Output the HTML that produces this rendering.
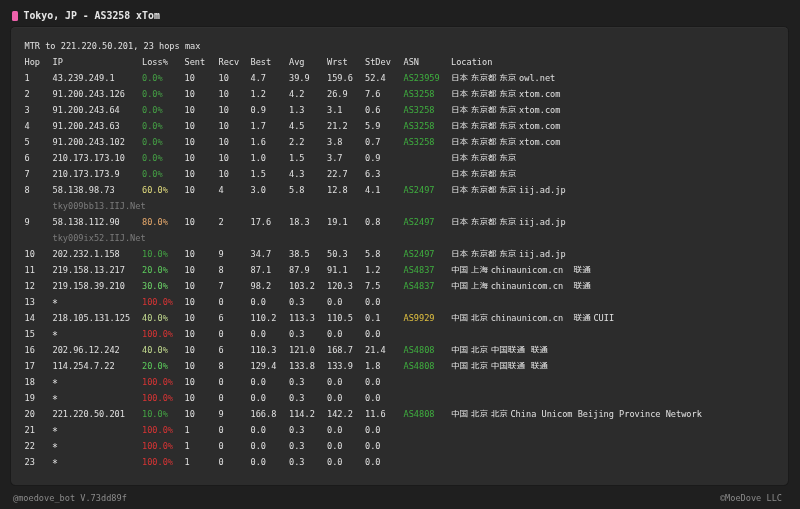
<!DOCTYPE html>
<html><head><meta charset="utf-8">
<style>
html,body{margin:0;padding:0;}
body{width:800px;height:509px;overflow:hidden;background:#1f1f1f;position:relative;
 font-family:"DejaVu Sans Mono","Noto Sans CJK SC",monospace;}
.title{position:absolute;left:23.5px;top:7.5px;font-size:9.85px;line-height:16px;font-weight:bold;color:#e6e6e6;white-space:pre;}
.bar{position:absolute;left:12.3px;top:10.6px;width:5.4px;height:10.3px;border-radius:1.5px;background:#ee62ac;}
.panel{position:absolute;left:11px;top:27px;width:776.5px;height:457.5px;background:#2c2c2c;border-radius:4.5px;
 box-shadow:0 0 0 1px #1a1a1a, inset 0 1px 0 #313131;}
.r{position:absolute;left:0;height:16px;width:800px;font-size:8.6px;line-height:16px;color:#e0e0e0;white-space:pre;}
.r span{position:absolute;top:0;}
.r i{font-style:normal;}
.r i.gap{word-spacing:0.07px;}
.r i.gap2{word-spacing:0.42px;}
.r i.ns{word-spacing:-2.58px;}
.r b.cj{font-weight:normal;font-family:"DejaVu Sans Mono","Noto Sans CJK SC",monospace;display:inline-block;transform:translateY(-0.1px) scaleY(0.8);}
.host{color:#7c7c7c;}
.r span.star{top:1.5px;transform:translate(-0.5px,0.9px) scale(1.15);}
.r span.loc{top:0px;}
.asg{color:#3fae3f;}
.asy{color:#e0c040;}
.l0{color:#45a045;}
.l10{color:#44a544;}
.l20{color:#5ccc5c;}
.l30{color:#6cd468;}
.l40{color:#c4dc90;}
.l60{color:#e2dc7e;}
.l80{color:#e8aa6c;}
.l100{color:#d83434;}
.foot{position:absolute;top:490px;font-size:8.6px;line-height:16px;color:#8a8a8a;white-space:pre;}
</style></head><body>
<div class="bar"></div>
<div class="title">Tokyo, JP - AS3258 xTom</div>
<div class="panel"></div>
<div class="r" style="top:37.80px"><span style="left:24.5px">MTR to 221.220.50.201, 23 hops max</span></div>
<div class="r" style="top:53.80px"><span style="left:24.5px">Hop</span><span style="left:52.5px">IP</span><span style="left:142.0px">Loss%</span><span style="left:184.5px">Sent</span><span style="left:218.5px">Recv</span><span style="left:250.5px">Best</span><span style="left:289.0px">Avg</span><span style="left:327.0px">Wrst</span><span style="left:365.0px">StDev</span><span style="left:403.5px">ASN</span><span style="left:451.0px">Location</span></div>
<div class="r" style="top:69.80px"><span style="left:24.5px">1</span><span style="left:52.5px">43.239.249.1</span><span class="l0" style="left:142.0px">0.0%</span><span style="left:184.5px">10</span><span style="left:218.5px">10</span><span style="left:250.5px">4.7</span><span style="left:289.0px">39.9</span><span style="left:327.0px">159.6</span><span style="left:365.0px">52.4</span><span class="asg" style="left:403.5px">AS23959</span><span class="loc" style="left:451.0px"><b class="cj">日本</b><i class="ns"> </i><b class="cj">东京都</b><i class="ns"> </i><b class="cj">东京</b><i class="ns"> </i>owl.net</span></div>
<div class="r" style="top:85.80px"><span style="left:24.5px">2</span><span style="left:52.5px">91.200.243.126</span><span class="l0" style="left:142.0px">0.0%</span><span style="left:184.5px">10</span><span style="left:218.5px">10</span><span style="left:250.5px">1.2</span><span style="left:289.0px">4.2</span><span style="left:327.0px">26.9</span><span style="left:365.0px">7.6</span><span class="asg" style="left:403.5px">AS3258</span><span class="loc" style="left:451.0px"><b class="cj">日本</b><i class="ns"> </i><b class="cj">东京都</b><i class="ns"> </i><b class="cj">东京</b><i class="ns"> </i>xtom.com</span></div>
<div class="r" style="top:101.80px"><span style="left:24.5px">3</span><span style="left:52.5px">91.200.243.64</span><span class="l0" style="left:142.0px">0.0%</span><span style="left:184.5px">10</span><span style="left:218.5px">10</span><span style="left:250.5px">0.9</span><span style="left:289.0px">1.3</span><span style="left:327.0px">3.1</span><span style="left:365.0px">0.6</span><span class="asg" style="left:403.5px">AS3258</span><span class="loc" style="left:451.0px"><b class="cj">日本</b><i class="ns"> </i><b class="cj">东京都</b><i class="ns"> </i><b class="cj">东京</b><i class="ns"> </i>xtom.com</span></div>
<div class="r" style="top:117.80px"><span style="left:24.5px">4</span><span style="left:52.5px">91.200.243.63</span><span class="l0" style="left:142.0px">0.0%</span><span style="left:184.5px">10</span><span style="left:218.5px">10</span><span style="left:250.5px">1.7</span><span style="left:289.0px">4.5</span><span style="left:327.0px">21.2</span><span style="left:365.0px">5.9</span><span class="asg" style="left:403.5px">AS3258</span><span class="loc" style="left:451.0px"><b class="cj">日本</b><i class="ns"> </i><b class="cj">东京都</b><i class="ns"> </i><b class="cj">东京</b><i class="ns"> </i>xtom.com</span></div>
<div class="r" style="top:133.80px"><span style="left:24.5px">5</span><span style="left:52.5px">91.200.243.102</span><span class="l0" style="left:142.0px">0.0%</span><span style="left:184.5px">10</span><span style="left:218.5px">10</span><span style="left:250.5px">1.6</span><span style="left:289.0px">2.2</span><span style="left:327.0px">3.8</span><span style="left:365.0px">0.7</span><span class="asg" style="left:403.5px">AS3258</span><span class="loc" style="left:451.0px"><b class="cj">日本</b><i class="ns"> </i><b class="cj">东京都</b><i class="ns"> </i><b class="cj">东京</b><i class="ns"> </i>xtom.com</span></div>
<div class="r" style="top:149.80px"><span style="left:24.5px">6</span><span style="left:52.5px">210.173.173.10</span><span class="l0" style="left:142.0px">0.0%</span><span style="left:184.5px">10</span><span style="left:218.5px">10</span><span style="left:250.5px">1.0</span><span style="left:289.0px">1.5</span><span style="left:327.0px">3.7</span><span style="left:365.0px">0.9</span><span class="loc" style="left:451.0px"><b class="cj">日本</b><i class="ns"> </i><b class="cj">东京都</b><i class="ns"> </i><b class="cj">东京</b></span></div>
<div class="r" style="top:165.80px"><span style="left:24.5px">7</span><span style="left:52.5px">210.173.173.9</span><span class="l0" style="left:142.0px">0.0%</span><span style="left:184.5px">10</span><span style="left:218.5px">10</span><span style="left:250.5px">1.5</span><span style="left:289.0px">4.3</span><span style="left:327.0px">22.7</span><span style="left:365.0px">6.3</span><span class="loc" style="left:451.0px"><b class="cj">日本</b><i class="ns"> </i><b class="cj">东京都</b><i class="ns"> </i><b class="cj">东京</b></span></div>
<div class="r" style="top:181.80px"><span style="left:24.5px">8</span><span style="left:52.5px">58.138.98.73</span><span class="l60" style="left:142.0px">60.0%</span><span style="left:184.5px">10</span><span style="left:218.5px">4</span><span style="left:250.5px">3.0</span><span style="left:289.0px">5.8</span><span style="left:327.0px">12.8</span><span style="left:365.0px">4.1</span><span class="asg" style="left:403.5px">AS2497</span><span class="loc" style="left:451.0px"><b class="cj">日本</b><i class="ns"> </i><b class="cj">东京都</b><i class="ns"> </i><b class="cj">东京</b><i class="ns"> </i>iij.ad.jp</span></div>
<div class="r" style="top:197.80px"><span class="host" style="left:52.5px">tky009bb13.IIJ.Net</span></div>
<div class="r" style="top:213.80px"><span style="left:24.5px">9</span><span style="left:52.5px">58.138.112.90</span><span class="l80" style="left:142.0px">80.0%</span><span style="left:184.5px">10</span><span style="left:218.5px">2</span><span style="left:250.5px">17.6</span><span style="left:289.0px">18.3</span><span style="left:327.0px">19.1</span><span style="left:365.0px">0.8</span><span class="asg" style="left:403.5px">AS2497</span><span class="loc" style="left:451.0px"><b class="cj">日本</b><i class="ns"> </i><b class="cj">东京都</b><i class="ns"> </i><b class="cj">东京</b><i class="ns"> </i>iij.ad.jp</span></div>
<div class="r" style="top:229.80px"><span class="host" style="left:52.5px">tky009ix52.IIJ.Net</span></div>
<div class="r" style="top:245.80px"><span style="left:24.5px">10</span><span style="left:52.5px">202.232.1.158</span><span class="l10" style="left:142.0px">10.0%</span><span style="left:184.5px">10</span><span style="left:218.5px">9</span><span style="left:250.5px">34.7</span><span style="left:289.0px">38.5</span><span style="left:327.0px">50.3</span><span style="left:365.0px">5.8</span><span class="asg" style="left:403.5px">AS2497</span><span class="loc" style="left:451.0px"><b class="cj">日本</b><i class="ns"> </i><b class="cj">东京都</b><i class="ns"> </i><b class="cj">东京</b><i class="ns"> </i>iij.ad.jp</span></div>
<div class="r" style="top:261.80px"><span style="left:24.5px">11</span><span style="left:52.5px">219.158.13.217</span><span class="l20" style="left:142.0px">20.0%</span><span style="left:184.5px">10</span><span style="left:218.5px">8</span><span style="left:250.5px">87.1</span><span style="left:289.0px">87.9</span><span style="left:327.0px">91.1</span><span style="left:365.0px">1.2</span><span class="asg" style="left:403.5px">AS4837</span><span class="loc" style="left:451.0px"><b class="cj">中国</b><i class="ns"> </i><b class="cj">上海</b><i class="ns"> </i>chinaunicom.cn<i class="gap">  </i><b class="cj">联通</b></span></div>
<div class="r" style="top:277.80px"><span style="left:24.5px">12</span><span style="left:52.5px">219.158.39.210</span><span class="l30" style="left:142.0px">30.0%</span><span style="left:184.5px">10</span><span style="left:218.5px">7</span><span style="left:250.5px">98.2</span><span style="left:289.0px">103.2</span><span style="left:327.0px">120.3</span><span style="left:365.0px">7.5</span><span class="asg" style="left:403.5px">AS4837</span><span class="loc" style="left:451.0px"><b class="cj">中国</b><i class="ns"> </i><b class="cj">上海</b><i class="ns"> </i>chinaunicom.cn<i class="gap">  </i><b class="cj">联通</b></span></div>
<div class="r" style="top:293.80px"><span style="left:24.5px">13</span><span class="star" style="left:52.5px">*</span><span class="l100" style="left:142.0px">100.0%</span><span style="left:184.5px">10</span><span style="left:218.5px">0</span><span style="left:250.5px">0.0</span><span style="left:289.0px">0.3</span><span style="left:327.0px">0.0</span><span style="left:365.0px">0.0</span></div>
<div class="r" style="top:309.80px"><span style="left:24.5px">14</span><span style="left:52.5px">218.105.131.125</span><span class="l40" style="left:142.0px">40.0%</span><span style="left:184.5px">10</span><span style="left:218.5px">6</span><span style="left:250.5px">110.2</span><span style="left:289.0px">113.3</span><span style="left:327.0px">110.5</span><span style="left:365.0px">0.1</span><span class="asy" style="left:403.5px">AS9929</span><span class="loc" style="left:451.0px"><b class="cj">中国</b><i class="ns"> </i><b class="cj">北京</b><i class="ns"> </i>chinaunicom.cn<i class="gap">  </i><b class="cj">联通</b><i class="ns"> </i>CUII</span></div>
<div class="r" style="top:325.80px"><span style="left:24.5px">15</span><span class="star" style="left:52.5px">*</span><span class="l100" style="left:142.0px">100.0%</span><span style="left:184.5px">10</span><span style="left:218.5px">0</span><span style="left:250.5px">0.0</span><span style="left:289.0px">0.3</span><span style="left:327.0px">0.0</span><span style="left:365.0px">0.0</span></div>
<div class="r" style="top:341.80px"><span style="left:24.5px">16</span><span style="left:52.5px">202.96.12.242</span><span class="l40" style="left:142.0px">40.0%</span><span style="left:184.5px">10</span><span style="left:218.5px">6</span><span style="left:250.5px">110.3</span><span style="left:289.0px">121.0</span><span style="left:327.0px">168.7</span><span style="left:365.0px">21.4</span><span class="asg" style="left:403.5px">AS4808</span><span class="loc" style="left:451.0px"><b class="cj">中国</b><i class="ns"> </i><b class="cj">北京</b><i class="ns"> </i><b class="cj">中国联通</b><i class="gap2"> </i><b class="cj">联通</b></span></div>
<div class="r" style="top:357.80px"><span style="left:24.5px">17</span><span style="left:52.5px">114.254.7.22</span><span class="l20" style="left:142.0px">20.0%</span><span style="left:184.5px">10</span><span style="left:218.5px">8</span><span style="left:250.5px">129.4</span><span style="left:289.0px">133.8</span><span style="left:327.0px">133.9</span><span style="left:365.0px">1.8</span><span class="asg" style="left:403.5px">AS4808</span><span class="loc" style="left:451.0px"><b class="cj">中国</b><i class="ns"> </i><b class="cj">北京</b><i class="ns"> </i><b class="cj">中国联通</b><i class="gap2"> </i><b class="cj">联通</b></span></div>
<div class="r" style="top:373.80px"><span style="left:24.5px">18</span><span class="star" style="left:52.5px">*</span><span class="l100" style="left:142.0px">100.0%</span><span style="left:184.5px">10</span><span style="left:218.5px">0</span><span style="left:250.5px">0.0</span><span style="left:289.0px">0.3</span><span style="left:327.0px">0.0</span><span style="left:365.0px">0.0</span></div>
<div class="r" style="top:389.80px"><span style="left:24.5px">19</span><span class="star" style="left:52.5px">*</span><span class="l100" style="left:142.0px">100.0%</span><span style="left:184.5px">10</span><span style="left:218.5px">0</span><span style="left:250.5px">0.0</span><span style="left:289.0px">0.3</span><span style="left:327.0px">0.0</span><span style="left:365.0px">0.0</span></div>
<div class="r" style="top:405.80px"><span style="left:24.5px">20</span><span style="left:52.5px">221.220.50.201</span><span class="l10" style="left:142.0px">10.0%</span><span style="left:184.5px">10</span><span style="left:218.5px">9</span><span style="left:250.5px">166.8</span><span style="left:289.0px">114.2</span><span style="left:327.0px">142.2</span><span style="left:365.0px">11.6</span><span class="asg" style="left:403.5px">AS4808</span><span class="loc" style="left:451.0px"><b class="cj">中国</b><i class="ns"> </i><b class="cj">北京</b><i class="ns"> </i><b class="cj">北京</b><i class="ns"> </i>China Unicom Beijing Province Network</span></div>
<div class="r" style="top:421.80px"><span style="left:24.5px">21</span><span class="star" style="left:52.5px">*</span><span class="l100" style="left:142.0px">100.0%</span><span style="left:184.5px">1</span><span style="left:218.5px">0</span><span style="left:250.5px">0.0</span><span style="left:289.0px">0.3</span><span style="left:327.0px">0.0</span><span style="left:365.0px">0.0</span></div>
<div class="r" style="top:437.80px"><span style="left:24.5px">22</span><span class="star" style="left:52.5px">*</span><span class="l100" style="left:142.0px">100.0%</span><span style="left:184.5px">1</span><span style="left:218.5px">0</span><span style="left:250.5px">0.0</span><span style="left:289.0px">0.3</span><span style="left:327.0px">0.0</span><span style="left:365.0px">0.0</span></div>
<div class="r" style="top:453.80px"><span style="left:24.5px">23</span><span class="star" style="left:52.5px">*</span><span class="l100" style="left:142.0px">100.0%</span><span style="left:184.5px">1</span><span style="left:218.5px">0</span><span style="left:250.5px">0.0</span><span style="left:289.0px">0.3</span><span style="left:327.0px">0.0</span><span style="left:365.0px">0.0</span></div>
<div class="foot" style="left:13px">@moedove_bot V.73dd89f</div>
<div class="foot" style="right:18px">©MoeDove LLC</div>
</body></html>
